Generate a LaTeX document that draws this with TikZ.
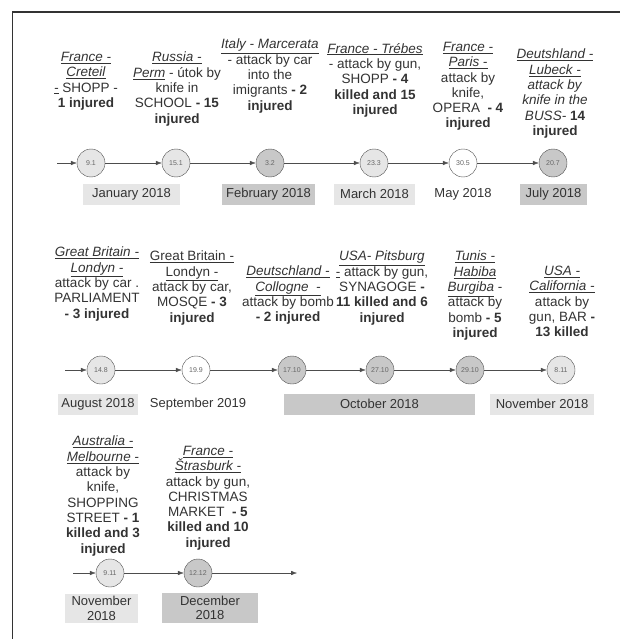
\documentclass[tikz,border=0pt]{standalone}
\usepackage{fontspec}
\setmainfont{Liberation Sans}
\usetikzlibrary{arrows.meta}

\definecolor{lightbox}{HTML}{E6E6E6}
\definecolor{darkbox}{HTML}{C8C8C8}
\definecolor{linegray}{HTML}{4D4D4D}

\newcommand{\city}[1]{\underline{\textit{#1}}}

\begin{document}
\begin{tikzpicture}[x=1pt, y=-1pt,
    day/.style={circle, draw=linegray, minimum size=28pt, inner sep=0pt, font=\fontsize{7}{7}\selectfont, text=black!60},
    event/.style={anchor=north, align=center, inner sep=0pt, font=\fontsize{13.5}{15.3}\selectfont, text=black!80},
    month/.style={minimum height=21pt, inner sep=0pt, font=\fontsize{13}{15}\selectfont, text=black!80},
    link/.style={draw=linegray, -{Latex[length=6pt,width=4.5pt]}}]
    \useasboundingbox (0,0) rectangle (620,639);

    % 枠
    \draw[line width=1.3pt, black!80] (12.5,639) -- (12.5,12) -- (620,12);

    % 1段目
    \node[day, fill=lightbox] (A) at (91, 163) {9.1};
    \node[day, fill=lightbox] (B) at (176, 163) {15.1};
    \node[day, fill=darkbox] (C) at (270, 163) {3.2};
    \node[day, fill=lightbox] (D) at (374, 163) {23.3};
    \node[day, fill=white] (E) at (463, 163) {30.5};
    \node[day, fill=darkbox] (F) at (553, 163) {20.7};
    \coordinate (s1) at (57, 163);

    \node[event] (tA) at (86, 52) {\city{France -}\\ \city{Creteil}\\ \city{-} SHOPP -\\ \textbf{1 injured}};
    \node[event] (tB) at (177, 52) {\city{Russia -}\\ \city{Perm} - útok by\\ knife in\\ SCHOOL \textbf{- 15}\\ \textbf{injured}};
    \node[event] (tC) at (270, 39) {\city{Italy - Marcerata}\\ - attack by car\\ into the\\ imigrants \textbf{- 2}\\ \textbf{injured}};
    \node[event] (tD) at (375, 43) {\city{France - Trébes}\\ - attack by gun,\\ SHOPP \textbf{- 4}\\ \textbf{killed and 15}\\ \textbf{injured}};
    \node[event] (tE) at (468, 42) {\city{France -}\\ \city{Paris -}\\ attack by\\ knife,\\ OPERA \ \textbf{- 4}\\ \textbf{injured}};
    \node[event] (tF) at (555, 49) {\city{Deutshland -}\\ \city{Lubeck -}\\ \textit{attack by}\\ \textit{knife in the}\\ \textit{BUSS-} \textbf{14}\\ \textbf{injured}};

    \node[month, fill=lightbox, minimum width=97pt] (mA) at (131.5, 194) {January 2018};
    \node[month, fill=darkbox, minimum width=93pt] (mC) at (268.5, 194) {February 2018};
    \node[month, fill=lightbox, minimum width=81pt] (mD) at (374.5, 194) {March 2018};
    \node[month] (mE) at (463, 194) {May 2018};
    \node[month, fill=darkbox, minimum width=67pt] (mF) at (553.5, 194) {July 2018};

    % 線を引く
    \draw[link] (s1) -- (A);
    \draw[link] (A) -- (B);
    \draw[link] (B) -- (C);
    \draw[link] (C) -- (D);
    \draw[link] (D) -- (E);
    \draw[link] (E) -- (F);

    % 2段目
    \node[day, fill=lightbox] (G) at (101, 370) {14.8};
    \node[day, fill=white] (H) at (196, 370) {19.9};
    \node[day, fill=darkbox] (I) at (292, 370) {17.10};
    \node[day, fill=darkbox] (J) at (380, 370) {27.10};
    \node[day, fill=darkbox] (K) at (470, 370) {29.10};
    \node[day, fill=lightbox] (L) at (561, 370) {8.11};
    \coordinate (s2) at (65, 370);

    \node[event] (tG) at (97, 247) {\city{Great Britain -}\\ \city{Londyn -}\\ attack by car .\\ PARLIAMENT\\ \textbf{- 3 injured}};
    \node[event] (tH) at (192, 251) {\underline{Great Britain -}\\ \underline{Londyn -}\\ attack by car,\\ MOSQE \textbf{- 3}\\ \textbf{injured}};
    \node[event] (tI) at (288, 266) {\city{Deutschland -}\\ \city{Collogne \ -}\\ attack by bomb\\ \textbf{- 2 injured}};
    \node[event] (tJ) at (382, 251) {\city{USA- Pitsburg}\\ \underline{-} attack by gun,\\ SYNAGOGE \textbf{-}\\ \textbf{11 killed and 6}\\ \textbf{injured}};
    \node[event] (tK) at (475, 251) {\city{Tunis -}\\ \city{Habiba}\\ \city{Burgiba} -\\ attack by\\ bomb \textbf{- 5}\\ \textbf{injured}};
    \node[event] (tL) at (562, 266) {\city{USA -}\\ \city{California -}\\ attack by\\ gun, BAR \textbf{-}\\ \textbf{13 killed}};

    \node[month, fill=lightbox, minimum width=80pt] (mG) at (98, 404) {August 2018};
    \node[month] (mH) at (198, 404) {September 2019};
    \node[month, fill=darkbox, minimum width=191pt] (mI) at (379.5, 404) {October 2018};
    \node[month, fill=lightbox, minimum width=104pt] (mL) at (542, 404) {November 2018};

    \draw[link] (s2) -- (G);
    \draw[link] (G) -- (H);
    \draw[link] (H) -- (I);
    \draw[link] (I) -- (J);
    \draw[link] (J) -- (K);
    \draw[link] (K) -- (L);

    % 3段目
    \node[day, fill=lightbox] (M) at (110, 573) {9.11};
    \node[day, fill=darkbox] (N) at (198, 573) {12.12};
    \coordinate (s3) at (73, 573);
    \coordinate (e3) at (297, 573);

    \node[event] (tM) at (103, 436) {\city{Australia -}\\ \city{Melbourne -}\\ attack by\\ knife,\\ SHOPPING\\ STREET \textbf{- 1}\\ \textbf{killed and 3}\\ \textbf{injured}};
    \node[event] (tN) at (208, 446) {\city{France -}\\ \city{Štrasburk -}\\ attack by gun,\\ CHRISTMAS\\ MARKET \ \textbf{- 5}\\ \textbf{killed and 10}\\ \textbf{injured}};

    \node[month, fill=lightbox, minimum width=73pt, minimum height=29pt, align=center, font=\fontsize{13}{14.5}\selectfont] (mM) at (101.5, 608.5) {November\\ 2018};
    \node[month, fill=darkbox, minimum width=96pt, minimum height=30pt, align=center, font=\fontsize{13}{14.5}\selectfont] (mN) at (210, 608) {December\\ 2018};

    \draw[link] (s3) -- (M);
    \draw[link] (M) -- (N);
    \draw[link] (N) -- (e3);

  \end{tikzpicture}
\end{document}
